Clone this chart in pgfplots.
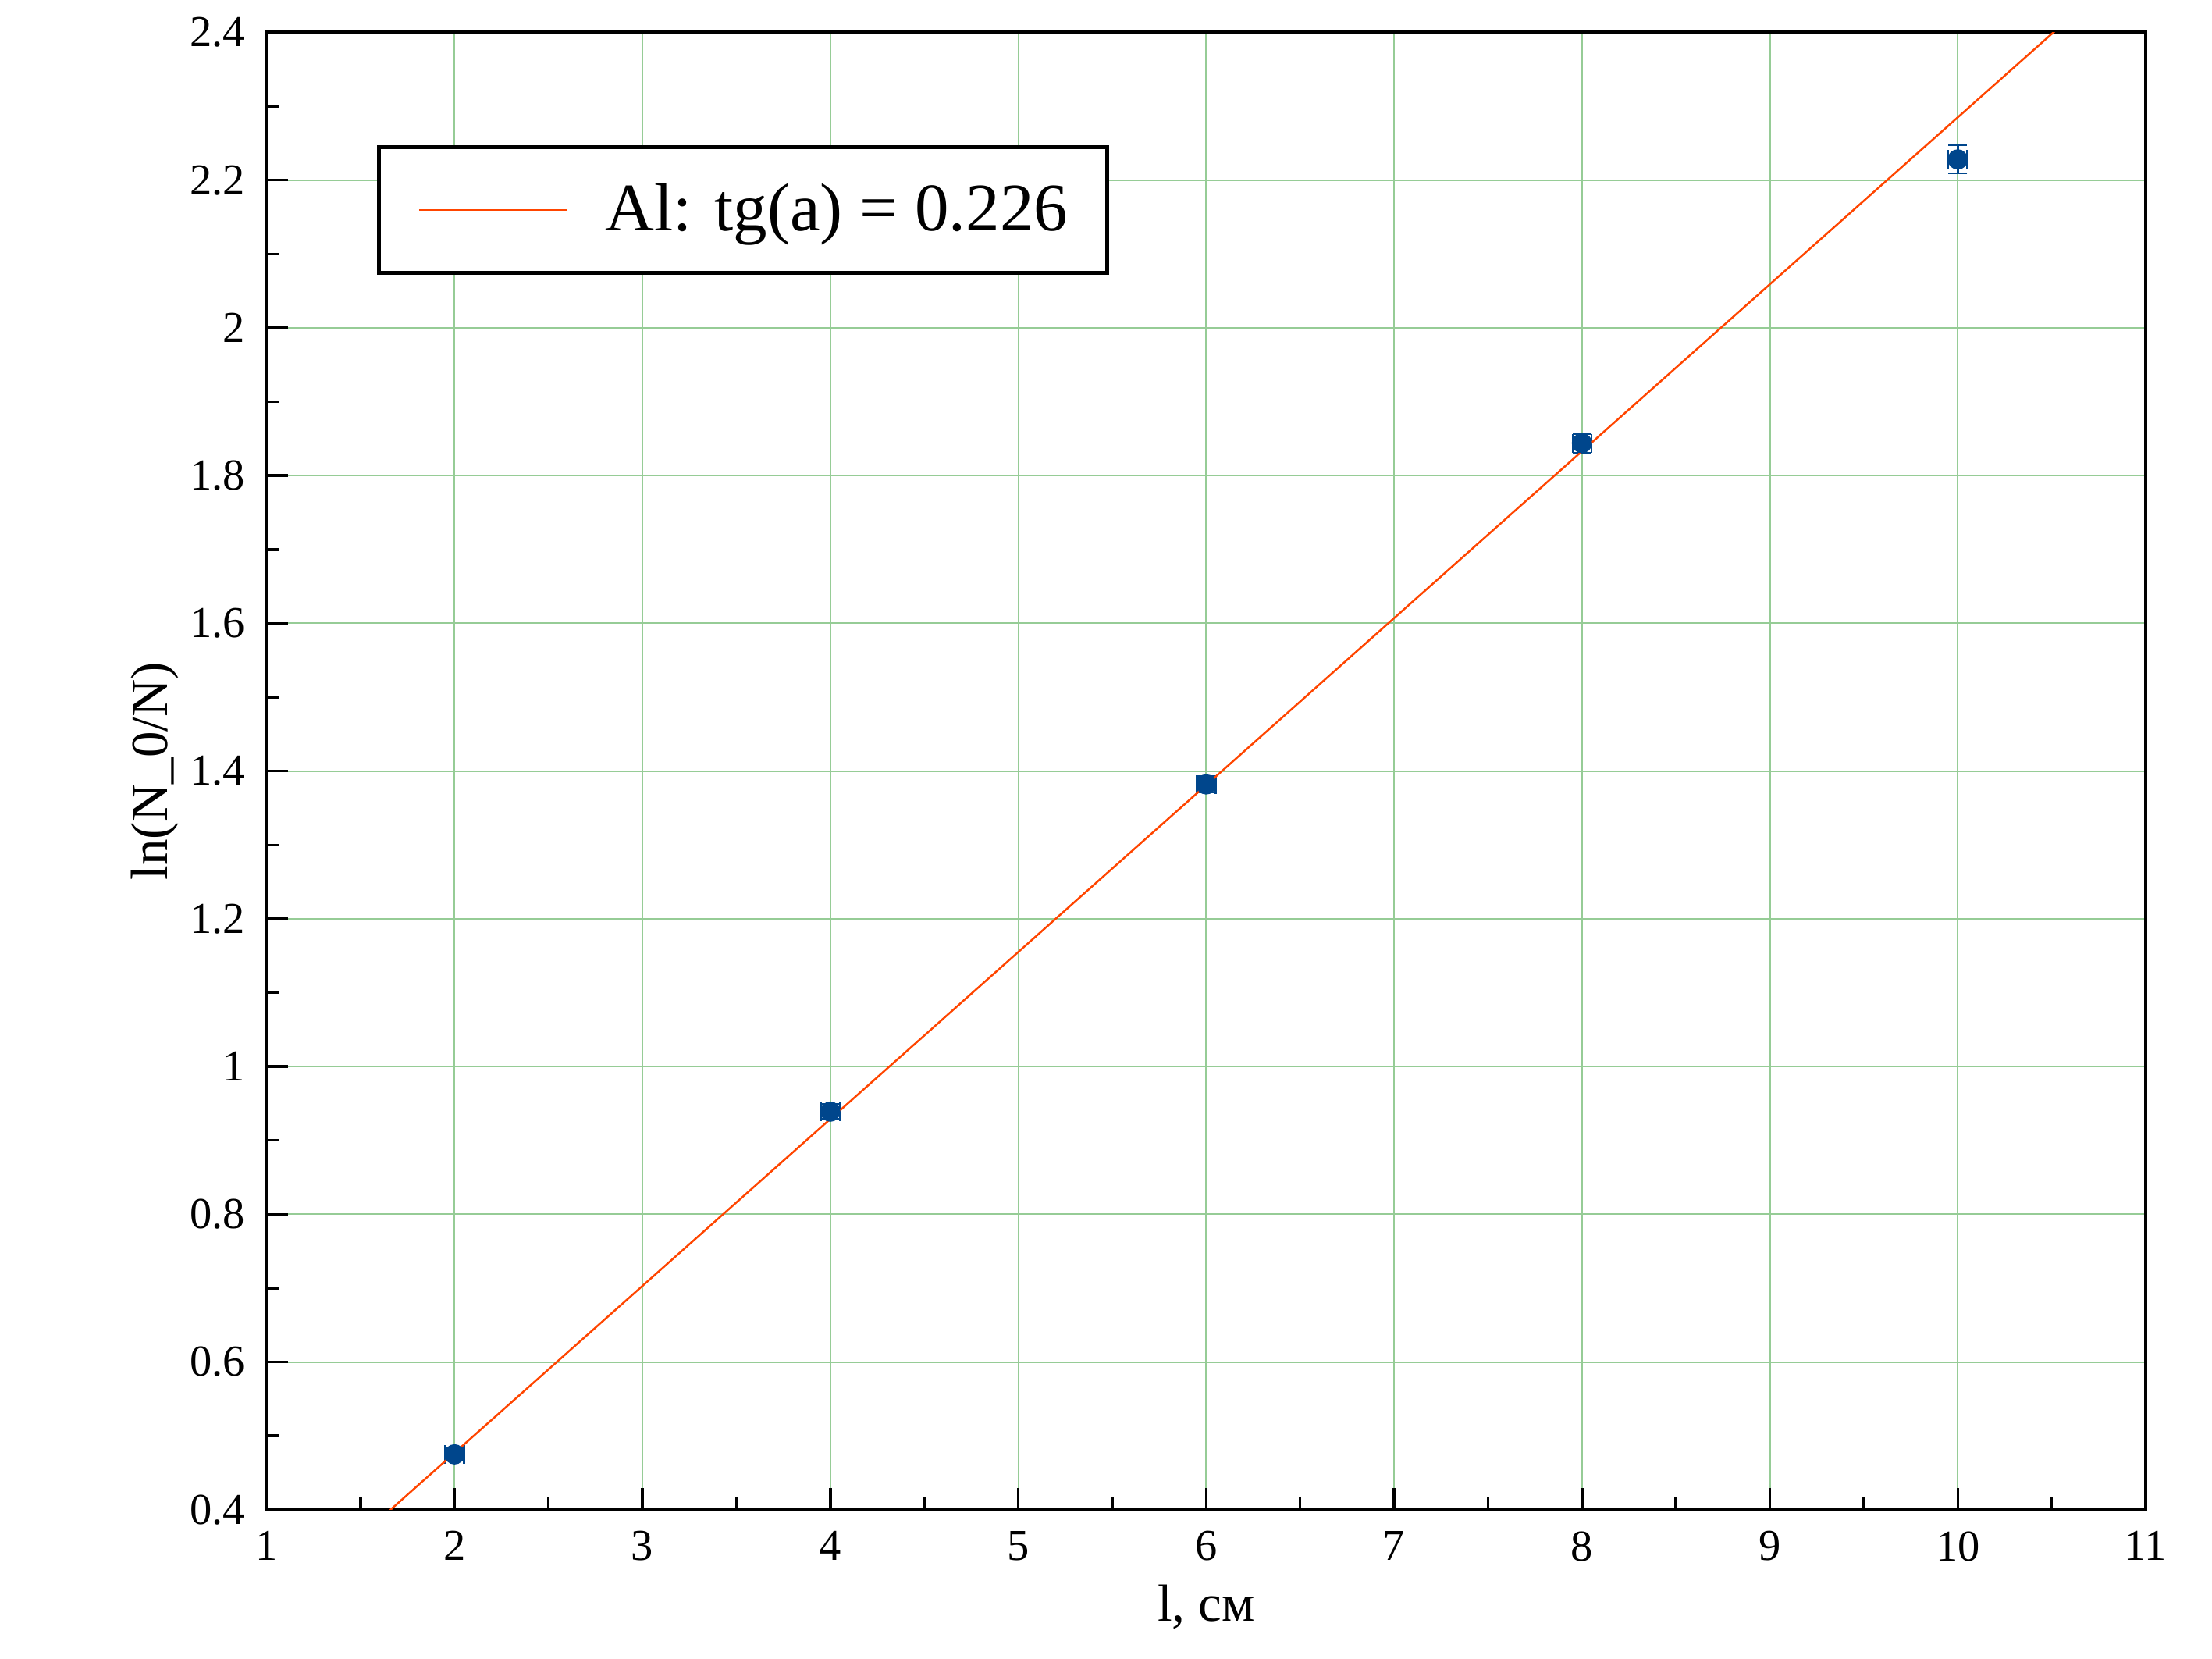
\documentclass[border=0pt]{standalone}
\usepackage{fontspec}
\setmainfont{Liberation Serif}
\usepackage{pgfplots}
\pgfplotsset{compat=1.18}
\definecolor{gridgreen}{RGB}{150,204,150}
\definecolor{fitred}{RGB}{255,69,0}
\definecolor{ptblue}{RGB}{0,70,140}
\begin{document}
\begin{tikzpicture}
\useasboundingbox (-68.3pt,-38.2pt) rectangle (498.4pt,386.7pt);
\begin{axis}[
  at={(0pt,0pt)}, anchor=south west,
  scale only axis, width=481.4pt, height=378.4pt,
  xmin=1, xmax=11, ymin=0.4, ymax=2.4,
  xtick={1,2,3,4,5,6,7,8,9,10,11},
  ytick={0.4,0.6,0.8,1,1.2,1.4,1.6,1.8,2,2.2,2.4},
  minor x tick num=1, minor y tick num=1,
  tick align=inside, tick pos=left,
  major tick length=5.5pt, minor tick length=3.2pt,
  every tick/.style={black, line width=0.7pt},
  axis line style={line width=0.8pt},
  grid=major, major grid style={gridgreen, line width=0.4pt},
  /pgf/number format/assume math mode=true,
  ticklabel style={font=\fontsize{11.3}{13}\selectfont},
  yticklabel style={xshift=-2pt}, xticklabel style={yshift=-2pt},
  label style={font=\fontsize{13.4}{16}\selectfont},
  xlabel={l, см}, ylabel={ln(N\_0/N)},
  xlabel style={at={(axis description cs:0.5,-0.066)}, anchor=center},
  ylabel style={at={(axis description cs:-0.0594,0.5)}, anchor=center},
  legend style={at={(axis description cs:0.0588,0.9236)}, anchor=north west,
    draw=black, line width=1pt, inner xsep=10pt, inner ysep=9.3pt,
    nodes={inner sep=0pt}, column sep=9.4pt,
    font=\fontsize{17.4}{20}\selectfont, fill=white},
  legend image code/.code={\draw[#1] (0pt,0pt) -- (38pt,0pt);},
]
\addplot[only marks, mark=*, mark size=2.4pt, color=ptblue,
  mark options={fill=ptblue, draw=ptblue}, forget plot,
  error bars/.cd, x dir=both, x explicit, y dir=both, y explicit,
  error bar style={line width=0.5pt, ptblue},
  error mark options={rotate=90, mark size=2.4pt, line width=0.5pt, ptblue}]
  coordinates {
    (2,0.475) +- (0.05,0.008)
    (4,0.939) +- (0.05,0.01)
    (6,1.382) +- (0.05,0.011)
    (8,1.844) +- (0.05,0.013)
    (10,2.228) +- (0.05,0.019)
  };
\addplot[fitred, line width=0.5pt] coordinates {(1.5,0.364) (11,2.511)};
\addlegendentry{Al: tg(a) = 0.226}
\end{axis}
\end{tikzpicture}
\end{document}
